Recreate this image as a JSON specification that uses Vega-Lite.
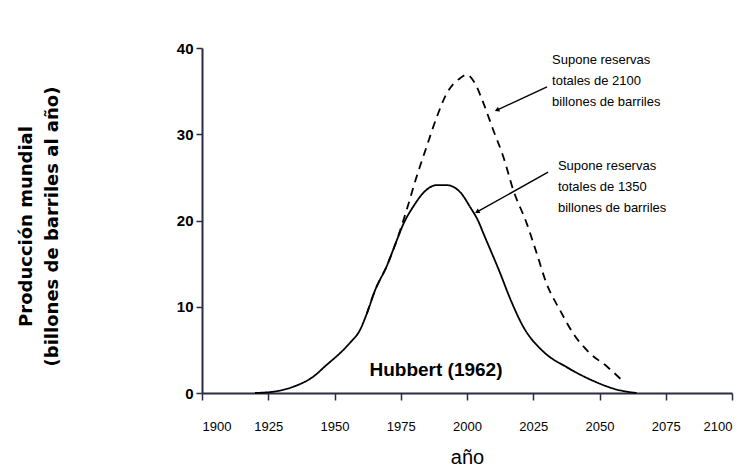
{
  "$schema": "https://vega.github.io/schema/vega-lite/v6.json",
  "width": 530,
  "height": 345,
  "autosize": "none",
  "padding": {"left": 202, "top": 48, "right": 16, "bottom": 74},
  "background": "white",
  "config": {"view": {"stroke": null}},
  "datasets": {
    "curves": [
      {"serie": "1350", "anio": 1920, "prod": 0},
      {"serie": "1350", "anio": 1928, "prod": 0.2},
      {"serie": "1350", "anio": 1934.5, "prod": 0.73},
      {"serie": "1350", "anio": 1942, "prod": 1.9},
      {"serie": "1350", "anio": 1947, "prod": 3.25},
      {"serie": "1350", "anio": 1952, "prod": 4.6},
      {"serie": "1350", "anio": 1955.8, "prod": 5.8},
      {"serie": "1350", "anio": 1959.6, "prod": 7.3},
      {"serie": "1350", "anio": 1962.2, "prod": 9.2},
      {"serie": "1350", "anio": 1965.3, "prod": 11.9},
      {"serie": "1350", "anio": 1969.7, "prod": 14.7},
      {"serie": "1350", "anio": 1973.5, "prod": 17.7},
      {"serie": "1350", "anio": 1976, "prod": 19.6},
      {"serie": "1350", "anio": 1979.7, "prod": 21.6},
      {"serie": "1350", "anio": 1983.5, "prod": 23.2},
      {"serie": "1350", "anio": 1988.6, "prod": 24.1},
      {"serie": "1350", "anio": 1992.3, "prod": 24.1},
      {"serie": "1350", "anio": 1997.4, "prod": 23.3},
      {"serie": "1350", "anio": 2001.1, "prod": 21.6},
      {"serie": "1350", "anio": 2004.3, "prod": 19.9},
      {"serie": "1350", "anio": 2006.2, "prod": 18.5},
      {"serie": "1350", "anio": 2012.5, "prod": 13.9},
      {"serie": "1350", "anio": 2016.2, "prod": 11.0},
      {"serie": "1350", "anio": 2021.2, "prod": 7.7},
      {"serie": "1350", "anio": 2028.8, "prod": 4.8},
      {"serie": "1350", "anio": 2037.6, "prod": 3.0},
      {"serie": "1350", "anio": 2047.7, "prod": 1.4},
      {"serie": "1350", "anio": 2056.5, "prod": 0.4},
      {"serie": "1350", "anio": 2064, "prod": 0},
      {"serie": "2100", "anio": 1962.2, "prod": 9.2},
      {"serie": "2100", "anio": 1965.3, "prod": 11.9},
      {"serie": "2100", "anio": 1969.7, "prod": 14.7},
      {"serie": "2100", "anio": 1973.5, "prod": 17.7},
      {"serie": "2100", "anio": 1977.2, "prod": 21.2},
      {"serie": "2100", "anio": 1981, "prod": 25.1},
      {"serie": "2100", "anio": 1984.8, "prod": 28.6},
      {"serie": "2100", "anio": 1988.6, "prod": 32},
      {"serie": "2100", "anio": 1992.3, "prod": 34.7},
      {"serie": "2100", "anio": 1997.4, "prod": 36.5},
      {"serie": "2100", "anio": 1999.9, "prod": 36.9},
      {"serie": "2100", "anio": 2003, "prod": 35.9},
      {"serie": "2100", "anio": 2006.2, "prod": 33.6},
      {"serie": "2100", "anio": 2009.9, "prod": 30.5},
      {"serie": "2100", "anio": 2013.7, "prod": 27.4},
      {"serie": "2100", "anio": 2017.5, "prod": 23.5},
      {"serie": "2100", "anio": 2022.5, "prod": 19.7},
      {"serie": "2100", "anio": 2026.3, "prod": 16.2},
      {"serie": "2100", "anio": 2030, "prod": 12.7},
      {"serie": "2100", "anio": 2035.1, "prod": 9.6},
      {"serie": "2100", "anio": 2040.1, "prod": 6.9},
      {"serie": "2100", "anio": 2046.4, "prod": 4.6},
      {"serie": "2100", "anio": 2052.7, "prod": 3.1},
      {"serie": "2100", "anio": 2058.4, "prod": 1.5}
    ],
    "notes": [
      {"texto": "Supone reservas\ntotales de 2100\nbillones de barriles", "tx": 2032.1, "ty": 39.3, "ax": 2030.2, "ay": 35.5, "bx": 2011.3, "by": 32.8, "ang": 245},
      {"texto": "Supone reservas\ntotales de 1350\nbillones de barriles", "tx": 2034.3, "ty": 27.0, "ax": 2030.6, "ay": 25.6, "bx": 2003.8, "by": 21.0, "ang": 241}
    ]
  },
  "layer": [
    {
      "data": {"name": "curves"},
      "mark": {"type": "line", "color": "black", "strokeWidth": 1.8, "interpolate": "monotone"},
      "encoding": {
        "x": {
          "field": "anio", "type": "quantitative",
          "scale": {"domain": [1900, 2100], "nice": false, "zero": false},
          "axis": {
            "values": [1900, 1925, 1950, 1975, 2000, 2025, 2050, 2075, 2100],
            "format": "d", "grid": false,
            "domainColor": "#2b2b45", "domainWidth": 2,
            "tickColor": "#2b2b45", "tickWidth": 1.5, "tickSize": 7,
            "labelFont": "Liberation Sans", "labelFontSize": 13, "labelColor": "black",
            "labelPadding": 20,
            "title": "año", "titleFont": "Liberation Sans", "titleFontSize": 20, "titleFontWeight": "normal",
            "titleColor": "black", "titleBaseline": "alphabetic", "titleY": 70
          }
        },
        "y": {
          "field": "prod", "type": "quantitative",
          "scale": {"domain": [0, 40], "nice": false},
          "axis": {
            "values": [0, 10, 20, 30, 40], "grid": false,
            "domainColor": "#2b2b45", "domainWidth": 2,
            "tickColor": "#2b2b45", "tickWidth": 1.5, "tickSize": 6,
            "labelFont": "Liberation Sans", "labelFontSize": 15, "labelFontWeight": "bold", "labelColor": "black",
            "labelPadding": 3,
            "title": ["Producción mundial", "(billones de barriles al año)"],
            "titleFont": "DejaVu Sans", "titleFontSize": 18, "titleFontWeight": "bold", "titleColor": "black",
            "titleLineHeight": 26, "titleBaseline": "top", "titleAlign": "center",
            "titleX": -185, "titleY": 178
          }
        },
        "strokeDash": {
          "field": "serie", "type": "nominal",
          "scale": {"domain": ["1350", "2100"], "range": [[1, 0], [8, 6]]},
          "legend": null
        }
      }
    },
    {
      "data": {"name": "notes"},
      "mark": {"type": "rule", "color": "black", "strokeWidth": 1.4},
      "encoding": {
        "x": {"field": "ax", "type": "quantitative"},
        "y": {"field": "ay", "type": "quantitative"},
        "x2": {"field": "bx"},
        "y2": {"field": "by"}
      }
    },
    {
      "data": {"name": "notes"},
      "mark": {"type": "point", "shape": "triangle-up", "filled": true, "color": "black", "size": 28, "opacity": 1},
      "encoding": {
        "x": {"field": "bx", "type": "quantitative"},
        "y": {"field": "by", "type": "quantitative"},
        "angle": {"field": "ang", "type": "quantitative", "scale": null}
      }
    },
    {
      "data": {"name": "notes"},
      "mark": {"type": "text", "align": "left", "baseline": "top", "lineBreak": "\n", "lineHeight": 21, "font": "Liberation Sans", "fontSize": 13, "color": "black"},
      "encoding": {
        "x": {"field": "tx", "type": "quantitative"},
        "y": {"field": "ty", "type": "quantitative"},
        "text": {"field": "texto"}
      }
    },
    {
      "data": {"values": [{"etiqueta": "Hubbert (1962)", "ex": 1988.3, "ey": 2.67}]},
      "mark": {"type": "text", "align": "center", "baseline": "middle", "font": "Liberation Sans", "fontSize": 19, "fontWeight": "bold", "color": "black"},
      "encoding": {
        "x": {"field": "ex", "type": "quantitative"},
        "y": {"field": "ey", "type": "quantitative"},
        "text": {"field": "etiqueta"}
      }
    }
  ]
}
